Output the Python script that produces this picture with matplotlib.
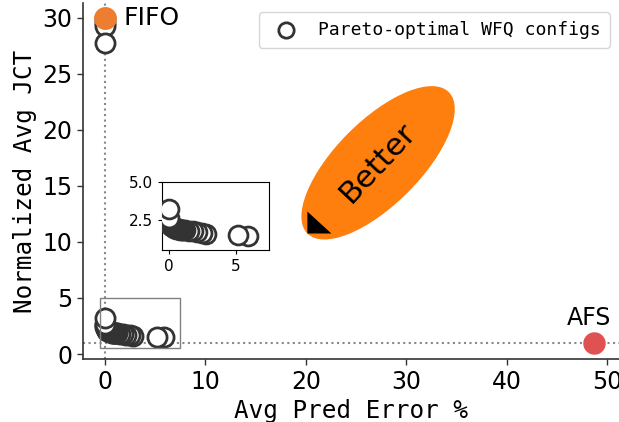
import matplotlib
matplotlib.use("Agg")
import matplotlib.pyplot as plt
from matplotlib.patches import Ellipse, Polygon
import matplotlib.transforms as mtransforms

# Pareto-optimal WFQ configurations (avg prediction error %, normalized avg JCT), in draw order
wfq_err = [5.9, 5.2, 2.8, 2.45, 2.1, 1.8, 1.5, 1.2,
           1.05, 0.95, 0.85, 0.75, 0.65, 0.55, 0.45, 0.38, 0.3, 0.22,
           0.15, 0.1, 0.06, 0.03, 0.01, 0.0,
           0.0, 0.0, 0.0, 0.0, 0.0]
wfq_jct = [1.5, 1.52, 1.6, 1.68, 1.74, 1.78, 1.82, 1.85,
           1.86, 1.87, 1.88, 1.9, 1.92, 1.95, 1.98, 2.02, 2.06, 2.1,
           2.16, 2.24, 2.34, 2.44, 2.55, 2.65,
           29.85, 29.55, 29.25, 27.75, 3.25]

# Baselines
fifo_err, fifo_jct = 0.0, 30.0
afs_err, afs_jct = 48.7, 1.0

x_ticks = [0, 10, 20, 30, 40, 50]
y_ticks = [0, 5, 10, 15, 20, 25, 30]
inset_xticks = [0, 5]
inset_yticks = [2.5, 5.0]

mono = "DejaVu Sans Mono"
edge = "#333333"

fig = plt.figure(figsize=(6.19, 4.22), dpi=100)
ax = fig.add_axes([0.134, 0.149, 0.866, 0.844])

ax.axvline(0, color="#888888", ls=":", lw=1.5, zorder=1)
ax.axhline(1, color="#888888", ls=":", lw=1.5, zorder=1)

ax.scatter(wfq_err, wfq_jct, s=190, facecolor="white", edgecolor=edge,
           linewidth=2, zorder=3, label="Pareto-optimal WFQ configs")
ax.scatter([fifo_err], [fifo_jct], s=240, color="#ED7D31", zorder=4)
ax.scatter([afs_err], [afs_jct], s=230, color="#E05252", zorder=4)

ax.annotate("FIFO", (fifo_err, fifo_jct), xytext=(18, 0), textcoords="offset pixels",
            ha="left", va="center", fontsize=18)
ax.annotate("AFS", (afs_err, afs_jct), xytext=(-5, 13), textcoords="offset pixels",
            ha="center", va="bottom", fontsize=17)

# "Better" callout: ellipse sized in inches, centred in data space
cx, cy = 27.2, 17.05
etrans = fig.dpi_scale_trans + mtransforms.ScaledTranslation(cx, cy, ax.transData)
ax.add_patch(Ellipse((0, 0), 2.0, 0.84, angle=45, transform=etrans,
                     facecolor="#FF7F0E", edgecolor="none", zorder=2))
ax.add_patch(Polygon([(-0.707, -0.707), (-0.707, -0.487), (-0.467, -0.707)],
                     closed=True, transform=etrans, facecolor="black",
                     edgecolor="none", zorder=2.5))
ax.text(cx, cy, "Better", rotation=47, ha="center", va="center",
        fontsize=22.5, zorder=3, rotation_mode="anchor")

ax.set_xlim(-2.2, 51.2)
ax.set_ylim(-0.45, 31.3)
ax.set_xticks(x_ticks)
ax.set_yticks(y_ticks)
ax.tick_params(labelsize=17, length=4, width=1, color=edge)
for side in ("top", "right"):
    ax.spines[side].set_visible(False)
for side in ("left", "bottom"):
    ax.spines[side].set_color(edge)
    ax.spines[side].set_linewidth(1.2)

ax.set_xlabel("Avg Pred Error %", family=mono, fontsize=17.5)
ax.set_ylabel("Normalized Avg JCT", family=mono, fontsize=17.5)

leg = ax.legend(loc="upper right", prop={"family": mono, "size": 13},
                handletextpad=0.8, borderpad=0.5, markerscale=0.8,
                frameon=True, fancybox=True)
leg.get_frame().set_edgecolor("#cccccc")

# Zoomed inset of the low-error region
axins = ax.inset_axes([0.147, 0.306, 0.2, 0.191])
axins.scatter(wfq_err, wfq_jct, s=185, facecolor="white", edgecolor=edge,
              linewidth=2, zorder=3)
axins.set_xlim(-0.55, 7.5)
axins.set_ylim(0.55, 5.0)
axins.set_xticks(inset_xticks)
axins.set_yticks(inset_yticks)
axins.tick_params(labelsize=11, length=3, width=0.8)
ax.indicate_inset_zoom(axins, edgecolor="gray", linewidth=1, alpha=1)

fig.savefig("out.png", dpi=100)
